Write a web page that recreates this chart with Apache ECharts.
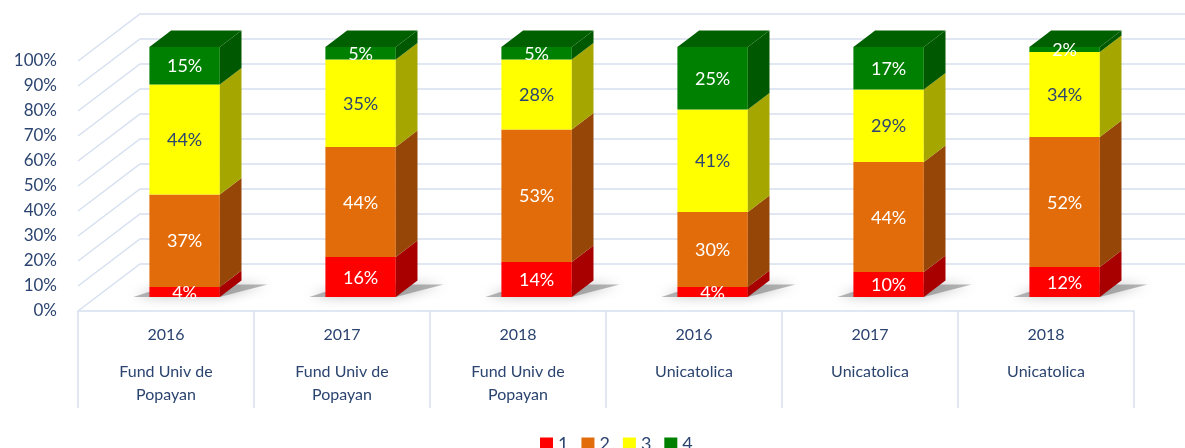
<!DOCTYPE html>
<html>
<head>
<meta charset="utf-8">
<script src="https://cdn.jsdelivr.net/npm/echarts@6/dist/echarts.min.js"></script>
<style>
  html, body { margin: 0; padding: 0; background: #fff; }
  #main { width: 1185px; height: 448px; }
</style>
</head>
<body>
<div id="main"></div>
<script>
// categories
var years = ['2016', '2017', '2018', '2016', '2017', '2018'];
var schools = ['Fund Univ de Popayan', 'Fund Univ de Popayan', 'Fund Univ de Popayan',
               'Unicatolica', 'Unicatolica', 'Unicatolica'];
// stacked values (%), level 1..4
var nivel1 = [4, 16, 14, 4, 10, 12];
var nivel2 = [37, 44, 53, 30, 44, 52];
var nivel3 = [44, 35, 28, 41, 29, 34];
var nivel4 = [15, 5, 5, 25, 17, 2];
var levelNames = ['1', '2', '3', '4'];
var yTicks = [0, 10, 20, 30, 40, 50, 60, 70, 80, 90, 100];

var TXT = '#2B4470';
var GRID = '#D6E0F0';
var FONT = 'Lato';
// oblique depth of the whole plot (px) and where bars sit in it
var DX = 62, DY = -47, FRONT = 0.3, BACK = 0.65;

var colors = [
    { front: '#FF0000', side: '#A80000', top: '#C00000', label: '#FFFFFF' },
    { front: '#E36C0A', side: '#964708', top: '#B85808', label: '#FFFFFF' },
    { front: '#FFFF00', side: '#A6A600', top: '#CCCC00', label: TXT },
    { front: '#008000', side: '#005800', top: '#006000', label: '#FFFFFF' }
];

var myChart = echarts.init(document.getElementById('main'));

function wrap(s) {
    // cut long names into two lines like the original
    if (s.length <= 12) return s;
    var i = s.lastIndexOf(' ', 12);
    return s.slice(0, i) + '\n' + s.slice(i + 1);
}

function barItem(colorSet) {
    return function (params, api) {
        var ci = api.value(0), lo = api.value(1), hi = api.value(2), v = api.value(3);
        var pLo = api.coord([ci, lo]);
        var pHi = api.coord([ci, hi]);
        var w = api.size([1, 0])[0] * 0.4;
        var x0 = pLo[0] - w / 2 + FRONT * DX;
        var y0 = pLo[1] + FRONT * DY;
        var y1 = pHi[1] + FRONT * DY;
        var bx = (BACK - FRONT) * DX, by = (BACK - FRONT) * DY;
        var children = [
            { type: 'rect', shape: { x: x0, y: y1, width: w, height: y0 - y1 },
              style: { fill: colorSet.front } },
            { type: 'polygon', shape: { points: [[x0 + w, y0], [x0 + w + bx, y0 + by], [x0 + w + bx, y1 + by], [x0 + w, y1]] },
              style: { fill: colorSet.side } }
        ];
        if (hi >= 99.9) {
            children.push({ type: 'polygon',
                shape: { points: [[x0, y1], [x0 + w, y1], [x0 + w + bx, y1 + by], [x0 + bx, y1 + by]] },
                style: { fill: colorSet.top } });
        }
        children.push({ type: 'text', z2: 10,
            style: { text: v + '%', x: x0 + w / 2, y: (y0 + y1) / 2 + 1, align: 'center', verticalAlign: 'middle',
                     fill: colorSet.label, fontSize: 18, fontFamily: FONT } });
        return { type: 'group', children: children };
    };
}

function gridItem(params, api) {
    var v = api.value(0);
    var p = api.coord([0, v]);
    var left = params.coordSys.x;
    var right = params.coordSys.x + params.coordSys.width + DX;
    return {
        type: 'polyline',
        shape: { points: [[left, p[1]], [left + DX, p[1] + DY], [right, p[1] + DY]] },
        style: { stroke: GRID, lineWidth: 1.5, fill: null }
    };
}

function shadowItem(params, api) {
    var ci = api.value(0);
    var p = api.coord([ci, 0]);
    var w = api.size([1, 0])[0] * 0.4;
    var x0 = p[0] - w / 2 + FRONT * DX;
    var y0 = p[1] + FRONT * DY;
    var bx = (BACK - FRONT) * DX, by = (BACK - FRONT) * DY;
    return {
        type: 'polygon',
        shape: { points: [[x0 - 16, y0], [x0 + w, y0], [x0 + w + bx + 26, y0 + by + 4], [x0 + bx, y0 + by + 4]] },
        style: { fill: 'rgba(110,110,110,0.5)', shadowBlur: 12, shadowColor: 'rgba(0,0,0,0.5)' }
    };
}

var levels = [nivel1, nivel2, nivel3, nivel4];
var base = years.map(function () { return 0; });
var series = [{
    type: 'custom', name: 'grid', silent: true, z: 1,
    renderItem: gridItem,
    data: yTicks.map(function (t) { return [t]; })
}, {
    type: 'custom', name: 'shadow', silent: true, z: 2,
    renderItem: shadowItem,
    data: years.map(function (y, i) { return [i]; })
}];
levels.forEach(function (vals, k) {
    var data = vals.map(function (v, i) {
        var item = [i, base[i], base[i] + v, v];
        base[i] += v;
        return item;
    });
    series.push({
        type: 'custom',
        name: levelNames[k],
        z: 3,
        itemStyle: { color: colors[k].front },
        renderItem: barItem(colors[k]),
        data: data
    });
});

var option = {
    animation: false,
    textStyle: { fontFamily: FONT },
    grid: { left: 78, right: 51, top: 61, bottom: 137 },
    legend: {
        data: levelNames,
        top: 435,
        left: 540,
        padding: 0,
        icon: 'rect',
        itemWidth: 13,
        itemHeight: 13,
        itemGap: 13,
        textStyle: { color: TXT, fontSize: 18, fontFamily: FONT }
    },
    xAxis: {
        type: 'category',
        data: years,
        axisLine: { show: true, lineStyle: { color: GRID, width: 1.5 } },
        axisTick: { show: true, length: 97, lineStyle: { color: GRID, width: 1.5 } },
        axisLabel: {
            margin: 14,
            interval: 0,
            formatter: function (val, idx) {
                var name = wrap(schools[idx]).split('\n').map(function (s) { return '{n|' + s + '}'; }).join('\n');
                return '{y|' + val + '}\n{g| }\n' + name;
            },
            rich: {
                y: { color: TXT, fontSize: 16, lineHeight: 20, fontFamily: FONT },
                g: { fontSize: 10, lineHeight: 15 },
                n: { color: TXT, fontSize: 16, lineHeight: 23, fontFamily: FONT }
            }
        }
    },
    yAxis: {
        type: 'value',
        min: 0,
        max: 100,
        interval: 10,
        axisLine: { show: false },
        axisTick: { show: false },
        splitLine: { show: false },
        axisLabel: { formatter: '{value}%', color: TXT, fontSize: 17, margin: 21, fontFamily: FONT }
    },
    series: series
};

myChart.setOption(option);
</script>
</body>
</html>
